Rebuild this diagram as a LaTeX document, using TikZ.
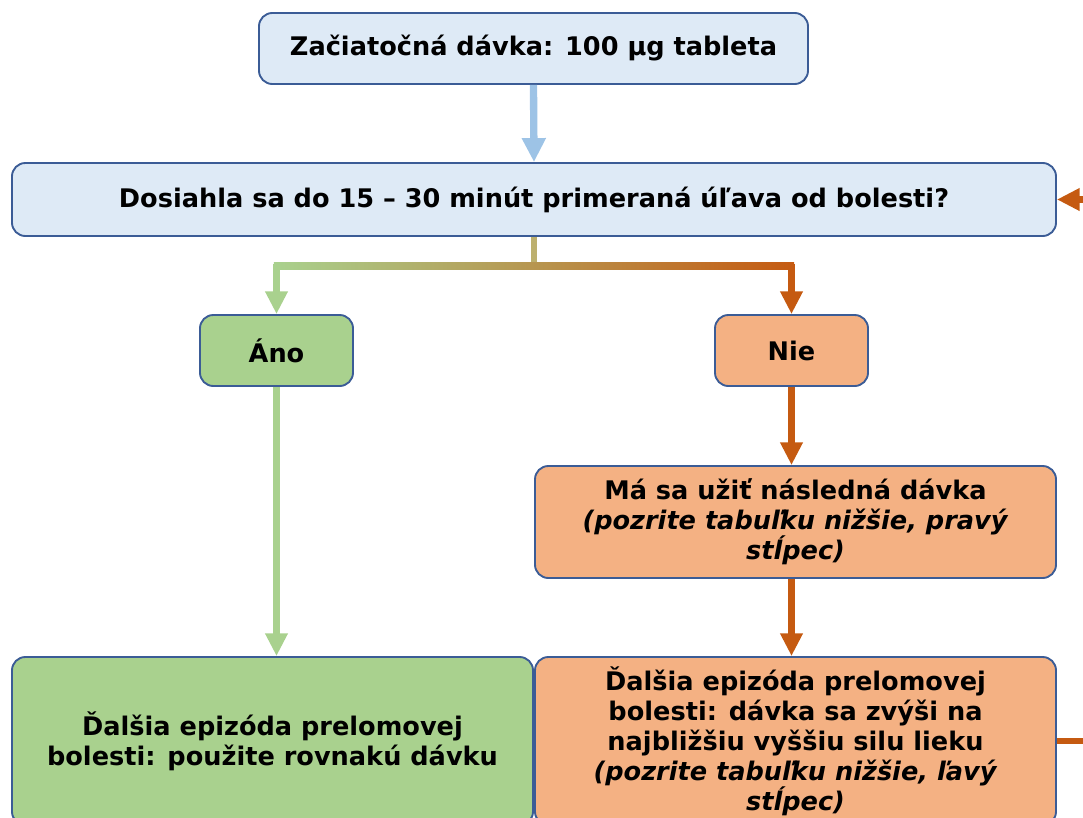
\documentclass[tikz,border=0pt]{standalone}
\usepackage{fontspec}
\setmainfont{DejaVu Sans}
\usetikzlibrary{arrows.meta}
\definecolor{boxline}{HTML}{3B5C96}
\definecolor{lblue}{HTML}{DEEAF6}
\definecolor{arrblue}{HTML}{9DC3E6}
\definecolor{grn}{HTML}{A9D18E}
\definecolor{orgfill}{HTML}{F4B183}
\definecolor{org}{HTML}{C55A11}
\definecolor{tan}{HTML}{BDB06E}
\begin{document}
\begin{tikzpicture}[x=0.75pt,y=-0.75pt,
  box/.style={draw=boxline, line width=1.4pt, rounded corners=10pt, align=center,
    inner sep=0pt, font=\fontsize{19.2}{22.5}\selectfont\bfseries},
  bluebox/.style={box, fill=lblue},
  greenbox/.style={box, fill=grn},
  orangebox/.style={box, fill=orgfill},
  bluearrow/.style={draw=arrblue, line width=5.5pt, -{Triangle[length=18pt,width=17pt]}},
  greenarrow/.style={draw=grn, line width=4.8pt, -{Triangle[length=17pt,width=16pt]}},
  orangearrow/.style={draw=org, line width=4.8pt, -{Triangle[length=17pt,width=16pt]}}
]
\useasboundingbox (0,0) rectangle (1083,818);

\node[bluebox, minimum width=411.75pt, minimum height=53.25pt] (top) at (533.5,48.5)
  {Začiatočná dávka: 100 µg tableta};
\node[bluebox, minimum width=783pt, minimum height=54.75pt] (q) at (534,199.5)
  {Dosiahla sa do 15 – 30 minút primeraná úľava od bolesti?};
\node[greenbox, minimum width=114.75pt, minimum height=53.25pt] (ano) at (276.5,350.5) {Áno};
\node[orangebox, minimum width=114.75pt, minimum height=53.25pt] (nie) at (791.5,350.5) {Nie};
\node[orangebox, minimum width=390.75pt, minimum height=84pt] (ma) at (795.5,522)
  {Má sa užiť následná dávka\\\textit{(pozrite tabuľku nižšie, pravý}\\\textit{stĺpec)}};
\node[orangebox, minimum width=390.75pt, minimum height=126pt] (br) at (795.5,741)
  {Ďalšia epizóda prelomovej\\bolesti: dávka sa zvýši na\\najbližšiu vyššiu silu lieku\\\textit{(pozrite tabuľku nižšie, ľavý}\\\textit{stĺpec)}};
\node[greenbox, minimum width=390.75pt, minimum height=126pt] (bl) at (272.5,741)
  {Ďalšia epizóda prelomovej\\bolesti: použite rovnakú dávku};

\draw[bluearrow] (top.south) -- (q.north);
\draw[greenarrow] (q.south) -- ++(0,30) -| (ano.north);
\draw[orangearrow] (q.south) -- ++(0,30) -| (nie.north);
\fill[tan] (530.8,237) rectangle (537.2,266);
\shade[left color=grn, middle color=tan, right color=org] (273.8,262.8) rectangle (794.2,269.2);
\draw[greenarrow] (ano.south) -- (ano.south |- bl.north);
\draw[orangearrow] (nie.south) -- (nie.south |- ma.north);
\draw[orangearrow] (nie.south |- ma.south) -- (nie.south |- br.north);
\draw[orangearrow] (br.east) -- ++(50,0) |- (q.east);
\end{tikzpicture}
\end{document}
